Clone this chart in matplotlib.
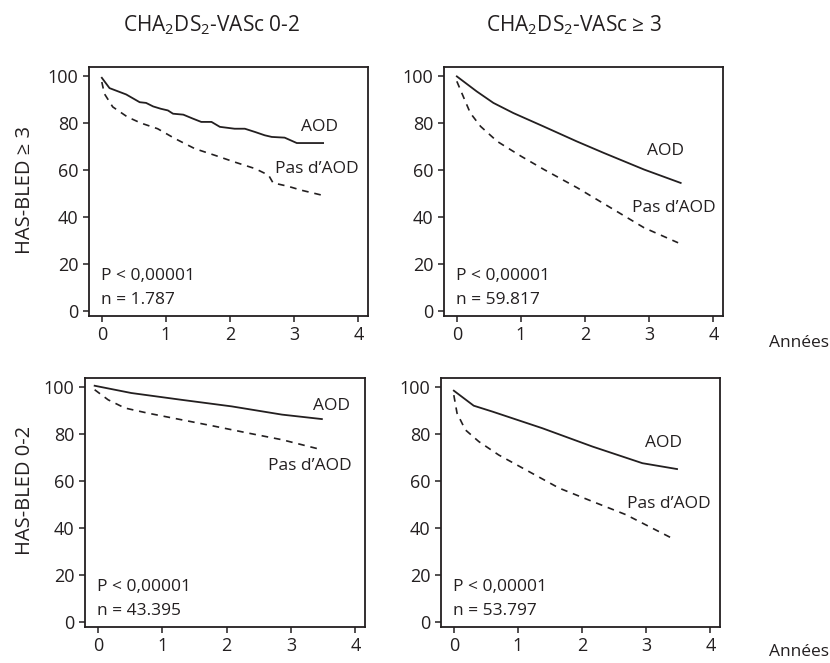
import matplotlib
matplotlib.use("Agg")
import matplotlib.pyplot as plt

plt.rcParams['font.family'] = ['Open Sans', 'DejaVu Sans']
plt.rcParams['mathtext.default'] = 'regular'

INK = "#231f20"

col_titles = ["CHA$_2$DS$_2$-VASc 0-2", "CHA$_2$DS$_2$-VASc \u2265 3"]
row_titles = ["HAS-BLED \u2265 3", "HAS-BLED 0-2"]
x_ticks = [0, 1, 2, 3, 4]
y_ticks = [0, 20, 40, 60, 80, 100]

# top-left: CHA2DS2-VASc 0-2 / HAS-BLED >= 3
tl_aod_x = [0, 0.12, 0.38, 0.59, 0.69, 0.80, 0.92, 1.03, 1.11, 1.27, 1.42, 1.55, 1.71,
            1.84, 2.07, 2.23, 2.39, 2.54, 2.65, 2.85, 3.04, 3.45]
tl_aod_y = [99.4, 95.0, 92.3, 89.0, 88.7, 87.2, 86.2, 85.5, 84.1, 83.7, 82.0, 80.6, 80.6,
            78.5, 77.7, 77.7, 76.3, 74.9, 74.2, 73.9, 71.6, 71.6]
tl_no_x = [0, 0.04, 0.17, 0.40, 0.61, 0.87, 1.14, 1.45, 1.76, 2.07, 2.39, 2.60, 2.67,
           2.90, 3.11, 3.43]
tl_no_y = [97.6, 92.6, 87.0, 82.7, 80.1, 77.7, 73.5, 69.2, 66.4, 63.5, 60.7, 57.9, 54.6,
           53.2, 51.5, 49.4]

# top-right: CHA2DS2-VASc >= 3 / HAS-BLED >= 3
tr_aod_x = [0, 0.31, 0.57, 0.88, 1.35, 1.87, 2.29, 2.92, 3.49]
tr_aod_y = [100, 93.6, 88.7, 84.4, 78.7, 72.3, 67.4, 60.3, 54.6]
tr_no_x = [0, 0.11, 0.21, 0.37, 0.63, 1.0, 1.36, 1.88, 2.40, 2.92, 3.45]
tr_no_y = [97.9, 90.8, 84.4, 78.7, 72.3, 66.0, 60.3, 52.5, 44.0, 35.5, 29.1]

# bottom-left: CHA2DS2-VASc 0-2 / HAS-BLED 0-2
bl_aod_x = [-0.05, 0.52, 1.30, 2.08, 2.86, 3.48]
bl_aod_y = [100.7, 97.6, 94.7, 91.9, 88.4, 86.5]
bl_no_x = [-0.05, 0.16, 0.42, 0.78, 1.30, 1.82, 2.34, 2.86, 3.44]
bl_no_y = [99.0, 94.7, 91.2, 89.0, 86.2, 83.4, 80.5, 77.7, 73.7]

# bottom-right: CHA2DS2-VASc >= 3 / HAS-BLED 0-2
br_aod_x = [0, 0.31, 0.60, 1.38, 2.16, 2.94, 3.48]
br_aod_y = [98.6, 92.2, 89.7, 82.6, 74.8, 67.7, 65.2]
br_no_x = [0, 0.05, 0.18, 0.39, 0.70, 1.12, 1.64, 2.16, 2.68, 3.41]
br_no_y = [96.7, 89.0, 81.9, 76.9, 71.2, 64.9, 57.1, 51.4, 45.8, 35.6]

n_labels = ["n = 1.787", "n = 59.817", "n = 43.395", "n = 53.797"]
p_label = "P < 0,00001"

# label anchors (data coords): AOD, Pas d'AOD
aod_pos = [(3.4, 78.5), (3.25, 68), (3.63, 92), (3.27, 76.2)]
no_pos = [(3.35, 60.7), (3.39, 44), (3.30, 66.3), (3.35, 50.4)]

panels = [
    (tl_aod_x, tl_aod_y, tl_no_x, tl_no_y),
    (tr_aod_x, tr_aod_y, tr_no_x, tr_no_y),
    (bl_aod_x, bl_aod_y, bl_no_x, bl_no_y),
    (br_aod_x, br_aod_y, br_no_x, br_no_y),
]

W, H = 830, 663
# box pixel rectangles: left, top, right, bottom
boxes = [(89, 67, 368, 316), (444, 67, 723, 316),
         (85, 378, 365, 627), (441, 378, 720, 627)]

fig = plt.figure(figsize=(W / 100, H / 100), dpi=100)
FS = 12.5

for i, (ax_x, ax_y, no_x, no_y) in enumerate(panels):
    l, t, r, b = boxes[i]
    ax = fig.add_axes([l / W, (H - b) / H, (r - l) / W, (b - t) / H])
    ax.plot(ax_x, ax_y, color=INK, lw=1.3)
    ax.plot(no_x, no_y, color=INK, lw=1.2, dashes=(4, 3.5))
    ax.set_xlim(-0.2, 4.15)
    ax.set_ylim(-2.1, 104)
    ax.set_xticks(x_ticks)
    ax.set_yticks(y_ticks)
    ax.tick_params(direction="out", length=4.5, width=1.1, colors=INK,
                   labelsize=13, pad=3)
    for s in ax.spines.values():
        s.set_linewidth(1.3)
        s.set_color(INK)
    ax.text(*aod_pos[i], "AOD", ha="center", va="center", fontsize=FS, color=INK)
    ax.text(*no_pos[i], "Pas d\u2019AOD", ha="center", va="center", fontsize=FS, color=INK)
    ax.text(-0.02, 15, p_label, ha="left", va="center", fontsize=FS, color=INK)
    ax.text(-0.02, 4.7, n_labels[i], ha="left", va="center", fontsize=FS, color=INK)

fig.text(212 / W, 1 - 25 / H, col_titles[0], ha="center", va="center", fontsize=15, color=INK)
fig.text(574 / W, 1 - 25 / H, col_titles[1], ha="center", va="center", fontsize=15, color=INK)
fig.text(25 / W, 1 - 190 / H, row_titles[0], ha="center", va="center", rotation=90,
         fontsize=14.5, color=INK)
fig.text(25 / W, 1 - 490 / H, row_titles[1], ha="center", va="center", rotation=90,
         fontsize=14.5, color=INK)
fig.text(829 / W, 1 - 343 / H, "Ann\u00e9es", ha="right", va="center", fontsize=12.5, color=INK)
fig.text(829 / W, 1 - 652 / H, "Ann\u00e9es", ha="right", va="center", fontsize=12.5, color=INK)

fig.savefig("out.png", dpi=100)
